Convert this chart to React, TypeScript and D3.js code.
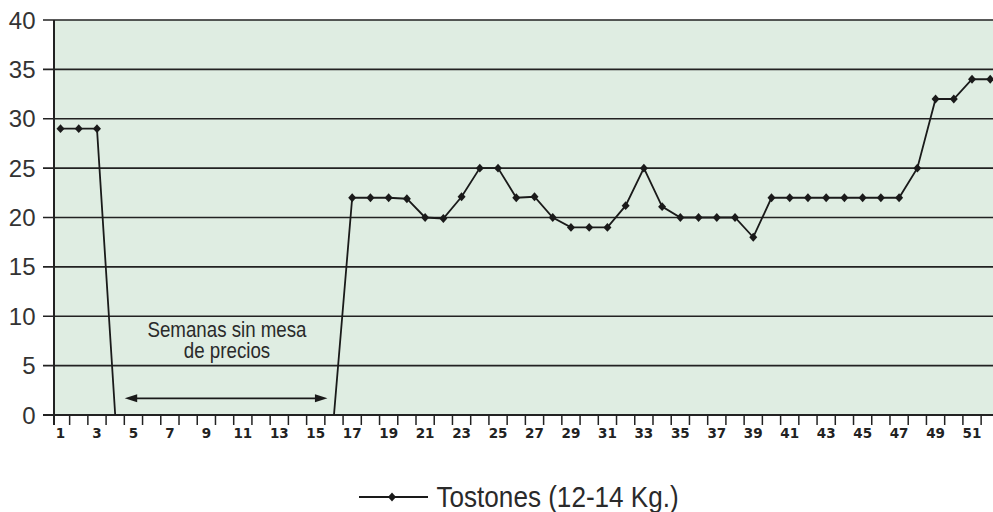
import React from "react";
import * as d3 from "d3";

const weeks: number[] = Array.from({ length: 52 }, (_, i) => i + 1);
const tostones: (number | null)[] = [
  29, 29, 29, 0, null, null, null, null, null, null, null, null, null, null, null, 0,
  22, 22, 22, 21.9, 20, 19.9, 22.1, 25, 25, 22, 22.1, 20, 19, 19, 19, 21.2,
  25, 21.1, 20, 20, 20, 20, 18, 22, 22, 22, 22, 22, 22, 22, 22, 25,
  32, 32, 34, 34,
];
const yTicks: number[] = [0, 5, 10, 15, 20, 25, 30, 35, 40];
const xTickLabels: number[] = weeks.filter((w) => w % 2 === 1);
const seriesName = "Tostones (12-14 Kg.)";
const noteLines = ["Semanas sin mesa", "de precios"];
const gapWeeks: number[] = [4, 16];

const W = 993;
const H = 512;
const axisX = 54;
const plotRight = 993;
const yTop = 20;
const yBottom = 415;
const bandStart = 51.4;
const bandW = 18.23;

export default function App() {
  const x = d3
    .scaleBand<number>()
    .domain(weeks)
    .range([bandStart, bandStart + bandW * weeks.length])
    .paddingInner(0)
    .paddingOuter(0);
  const cx = (w: number) => (x(w) as number) + x.bandwidth() / 2;
  const y = d3.scaleLinear().domain([0, 40]).range([yBottom, yTop]);

  const data = weeks.map((w, i) => ({ w, v: tostones[i] }));
  const line = d3
    .line<{ w: number; v: number | null }>()
    .defined((d) => d.v !== null)
    .x((d) => cx(d.w))
    .y((d) => y(d.v as number));

  const diamond = "M0,-4.4L4,0L0,4.4L-4,0Z";
  const sans = "'Liberation Sans', Arial, Helvetica, sans-serif";

  const arrowY = 398.3;
  const arrowL = cx(gapWeeks[0]) + 9.5;
  const arrowR = cx(gapWeeks[1]) - 6.5;

  return (
    <svg
      width={W}
      height={H}
      style={{ position: "absolute", left: 0, top: 0, background: "#fff" }}
    >
      <rect x={axisX} y={yTop} width={plotRight - axisX} height={yBottom - yTop} fill="#dfede2" />
      {yTicks.map((t) => (
        <g key={t}>
          {t > 0 && (
            <line x1={43} x2={plotRight} y1={y(t)} y2={y(t)} stroke="#222" strokeWidth={1.6} />
          )}
          <text
            x={35.5}
            y={y(t) + 8.6}
            textAnchor="end"
            fontFamily={sans}
            fontSize={24}
            fill="#333"
          >
            {t}
          </text>
        </g>
      ))}
      {/* x axis */}
      <line x1={43} x2={plotRight} y1={yBottom} y2={yBottom} stroke="#222" strokeWidth={1.8} />
      <line x1={axisX} x2={axisX} y1={yTop} y2={425} stroke="#222" strokeWidth={2} />
      {weeks.slice(0, -1).map((w) => {
        const bx = (x(w) as number) + x.bandwidth();
        return <line key={w} x1={bx} x2={bx} y1={yBottom} y2={425} stroke="#222" strokeWidth={1.5} />;
      })}
      {xTickLabels.map((w) => (
        <text
          key={w}
          x={cx(w)}
          y={437.5}
          textAnchor="middle"
          fontFamily="'DejaVu Sans', Verdana, sans-serif"
          fontWeight="bold"
          fontSize={13.5}
          fill="#222"
        >
          {w}
        </text>
      ))}
      {/* series */}
      <path d={line(data) || ""} fill="none" stroke="#1a1a1a" strokeWidth={1.8} />
      {data
        .filter((d) => d.v !== null && !gapWeeks.includes(d.w))
        .map((d) => (
          <path key={d.w} d={diamond} transform={`translate(${cx(d.w)},${y(d.v as number)})`} fill="#1a1a1a" />
        ))}
      {/* annotation */}
      {noteLines.map((s, i) => (
        <text
          key={i}
          transform={`translate(227,${336.7 + i * 21.5}) scale(0.87,1)`}
          textAnchor="middle"
          fontFamily={sans}
          fontSize={21.5}
          fill="#2a2a2a"
        >
          {s}
        </text>
      ))}
      <line x1={arrowL + 10} x2={arrowR - 10} y1={arrowY} y2={arrowY} stroke="#1a1a1a" strokeWidth={1.8} />
      <path d={`M${arrowL},${arrowY}L${arrowL + 12.5},${arrowY - 4}L${arrowL + 12.5},${arrowY + 4}Z`} fill="#1a1a1a" />
      <path d={`M${arrowR},${arrowY}L${arrowR - 12.5},${arrowY - 4}L${arrowR - 12.5},${arrowY + 4}Z`} fill="#1a1a1a" />
      {/* legend */}
      <line x1={359} x2={428} y1={497} y2={497} stroke="#1a1a1a" strokeWidth={1.8} />
      <path d={diamond} transform="translate(392,497)" fill="#1a1a1a" />
      <text transform="translate(436.5,506.5) scale(0.87,1)" fontFamily={sans} fontSize={30} fill="#2a2a2a">
        {seriesName}
      </text>
    </svg>
  );
}
